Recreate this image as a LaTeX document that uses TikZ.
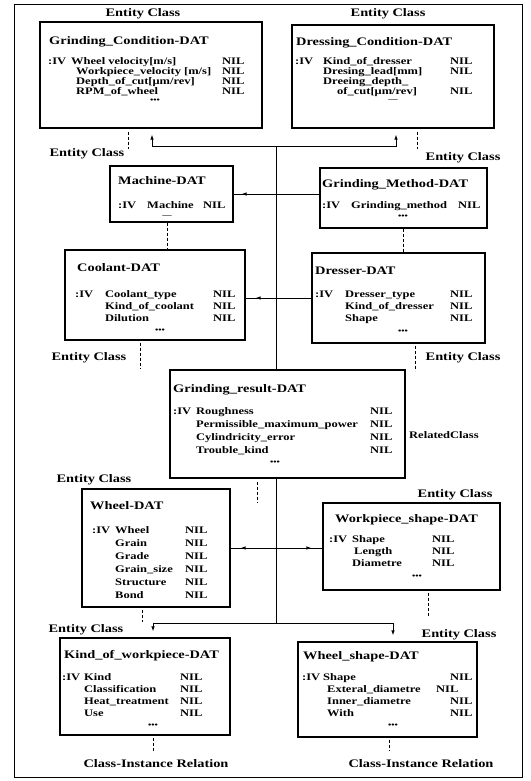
\documentclass[tikz,border=0pt]{standalone}
\usepackage{fontspec}
\setmainfont{Liberation Serif}[FakeStretch=1.25]
\usetikzlibrary{arrows.meta,calc}
\tikzset{
 box/.style={draw, line width=1.1pt, inner sep=0pt, rectangle},
 ttl/.style={anchor=base west, inner sep=0pt, font=\bfseries\fontsize{11.5}{12}\selectfont},
 row/.style={anchor=base west, inner sep=0pt, font=\bfseries\fontsize{10}{10}\selectfont},
 lbl/.style={anchor=base, inner sep=0pt, font=\bfseries\fontsize{11.5}{12}\selectfont},
 rlbl/.style={anchor=base west, inner sep=0pt, font=\bfseries\fontsize{10}{10}\selectfont},
 dots/.style={anchor=center, inner sep=0pt, font=\bfseries\fontsize{7.5}{7.5}\selectfont},
 conn/.style={line width=0.9pt},
 tip/.style={-{Latex[length=5pt,width=3.5pt]}, line width=0.9pt},
 dashline/.style={line width=0.8pt, dash pattern=on 3pt off 2pt},
}
\begin{document}
\begin{tikzpicture}[x=1pt,y=-1pt]
\useasboundingbox (0,0) rectangle (530,781);
\draw[line width=0.9pt] (14,4) rectangle (522,777);

% ---------- boxes ----------
\node[box, minimum width=222pt, minimum height=106pt] (gc) at (151,75) {};
\node[box, minimum width=202pt, minimum height=103pt] (dc) at (393,76.5) {};
\node[box, minimum width=123pt, minimum height=56pt] (ma) at (171.5,194) {};
\node[box, minimum width=167pt, minimum height=60pt] (gm) at (403.5,198) {};
\node[box, minimum width=180pt, minimum height=90pt] (co) at (155,295) {};
\node[box, minimum width=173pt, minimum height=90pt] (dr) at (398.5,298) {};
\node[box, minimum width=235pt, minimum height=108pt] (gr) at (287.5,424) {};
\node[box, minimum width=148pt, minimum height=118pt] (wh) at (156,548) {};
\node[box, minimum width=177pt, minimum height=87pt] (wp) at (411.5,546.5) {};
\node[box, minimum width=170pt, minimum height=97pt] (kw) at (145,686.5) {};
\node[box, minimum width=179pt, minimum height=95pt] (ws) at (387.5,689.5) {};

% ---------- labels ----------
\node[lbl] (l1) at (143,17) {Entity Class};
\node[lbl] (l2) at (388,17) {Entity Class};
\node[lbl] (l3) at (87,157) {Entity Class};
\node[lbl] (l4) at (463,160) {Entity Class};
\node[lbl] (l5) at (89,360) {Entity Class};
\node[lbl] (l6) at (463,360) {Entity Class};
\node[lbl] (l7) at (94,482) {Entity Class};
\node[lbl] (l8) at (455,497) {Entity Class};
\node[lbl] (l9) at (86,632) {Entity Class};
\node[lbl] (l10) at (459,637) {Entity Class};
\node[lbl] (l11) at (156,767) {Class-Instance Relation};
\node[lbl] (l12) at (421,767) {Class-Instance Relation};
\node[rlbl] (l13) at (409,438.5) {RelatedClass};

% ---------- Grinding_Condition ----------
\node[ttl] (gc-t) at (49,45) {Grinding\_Condition-DAT};
\node[row] (gc-iv) at (48,64.5) {:IV};
\node[row] (gc-1) at (71,64.5) {Wheel velocity[m/s]};
\node[row] (gc-2) at (76,74.5) {Workpiece\_velocity [m/s]};
\node[row] (gc-3) at (76,84.5) {Depth\_of\_cut[μm/rev]};
\node[row] (gc-4) at (76,94.5) {RPM\_of\_wheel};
\node[row] (gc-n1) at (222,64.5) {NIL};
\node[row] (gc-n2) at (222,74.5) {NIL};
\node[row] (gc-n3) at (222,84.5) {NIL};
\node[row] (gc-n4) at (222,94.5) {NIL};
\node[dots] (gc-d) at (155,101) {•••};

% ---------- Dressing_Condition ----------
\node[ttl] (dc-t) at (296,46) {Dressing\_Condition-DAT};
\node[row] (dc-iv) at (295,64.5) {:IV};
\node[row] (dc-1) at (323,64.5) {Kind\_of\_dresser};
\node[row] (dc-2) at (323,74.5) {Dresing\_lead[mm]};
\node[row] (dc-3) at (323,84.5) {Dreeing\_depth\_};
\node[row] (dc-4) at (337,94.5) {of\_cut[μm/rev]};
\node[row] (dc-n1) at (450,64.5) {NIL};
\node[row] (dc-n2) at (450,74.5) {NIL};
\node[row] (dc-n4) at (450,94.5) {NIL};
\node[dots] (dc-d) at (393,100) {—};

% ---------- Machine ----------
\node[ttl] (ma-t) at (118,184) {Machine-DAT};
\node[row] (ma-iv) at (118,208.5) {:IV};
\node[row] (ma-1) at (147,208.5) {Machine};
\node[row] (ma-n1) at (203,208.5) {NIL};
\node[dots] (ma-d) at (167,216) {—};

% ---------- Grinding_Method ----------
\node[ttl] (gm-t) at (322,187) {Grinding\_Method-DAT};
\node[row] (gm-iv) at (322,208.5) {:IV};
\node[row] (gm-1) at (351,208.5) {Grinding\_method};
\node[row] (gm-n1) at (458,208.5) {NIL};
\node[dots] (gm-d) at (403,217) {•••};

% ---------- Coolant ----------
\node[ttl] (co-t) at (77,271) {Coolant-DAT};
\node[row] (co-iv) at (75,297.5) {:IV};
\node[row] (co-1) at (105,297.5) {Coolant\_type};
\node[row] (co-2) at (105,309.5) {Kind\_of\_coolant};
\node[row] (co-3) at (105,321.5) {Dilution};
\node[row] (co-n1) at (213,297.5) {NIL};
\node[row] (co-n2) at (213,309.5) {NIL};
\node[row] (co-n3) at (213,321.5) {NIL};
\node[dots] (co-d) at (160,331) {•••};

% ---------- Dresser ----------
\node[ttl] (dr-t) at (315,274) {Dresser-DAT};
\node[row] (dr-iv) at (315,297.5) {:IV};
\node[row] (dr-1) at (345,297.5) {Dresser\_type};
\node[row] (dr-2) at (345,309.5) {Kind\_of\_dresser};
\node[row] (dr-3) at (345,321.5) {Shape};
\node[row] (dr-n1) at (450,297.5) {NIL};
\node[row] (dr-n2) at (450,309.5) {NIL};
\node[row] (dr-n3) at (450,321.5) {NIL};
\node[dots] (dr-d) at (403,332) {•••};

% ---------- Grinding_result ----------
\node[ttl] (gr-t) at (173,392) {Grinding\_result-DAT};
\node[row] (gr-iv) at (173,414.5) {:IV};
\node[row] (gr-1) at (196,414.5) {Roughness};
\node[row] (gr-2) at (196,427.5) {Permissible\_maximum\_power};
\node[row] (gr-3) at (196,440.5) {Cylindricity\_error};
\node[row] (gr-4) at (196,453.5) {Trouble\_kind};
\node[row] (gr-n1) at (370,414.5) {NIL};
\node[row] (gr-n2) at (370,427.5) {NIL};
\node[row] (gr-n3) at (370,440.5) {NIL};
\node[row] (gr-n4) at (370,453.5) {NIL};
\node[dots] (gr-d) at (275,463) {•••};

% ---------- Wheel ----------
\node[ttl] (wh-t) at (90,509) {Wheel-DAT};
\node[row] (wh-iv) at (92,533.5) {:IV};
\node[row] (wh-1) at (115,533.5) {Wheel};
\node[row] (wh-2) at (115,546.5) {Grain};
\node[row] (wh-3) at (115,559.5) {Grade};
\node[row] (wh-4) at (115,572.5) {Grain\_size};
\node[row] (wh-5) at (115,585.5) {Structure};
\node[row] (wh-6) at (115,598.5) {Bond};
\node[row] (wh-n1) at (185,533.5) {NIL};
\node[row] (wh-n2) at (185,546.5) {NIL};
\node[row] (wh-n3) at (185,559.5) {NIL};
\node[row] (wh-n4) at (185,572.5) {NIL};
\node[row] (wh-n5) at (185,585.5) {NIL};
\node[row] (wh-n6) at (185,598.5) {NIL};

% ---------- Workpiece_shape ----------
\node[ttl] (wp-t) at (335,522) {Workpiece\_shape-DAT};
\node[row] (wp-iv) at (329,542.5) {:IV};
\node[row] (wp-1) at (352,542.5) {Shape};
\node[row] (wp-2) at (354,554.5) {Length};
\node[row] (wp-3) at (352,566.5) {Diametre};
\node[row] (wp-n1) at (432,542.5) {NIL};
\node[row] (wp-n2) at (432,554.5) {NIL};
\node[row] (wp-n3) at (432,566.5) {NIL};
\node[dots] (wp-d) at (417,577) {•••};

% ---------- Kind_of_workpiece ----------
\node[ttl] (kw-t) at (64,658) {Kind\_of\_workpiece-DAT};
\node[row] (kw-iv) at (62,680.5) {:IV};
\node[row] (kw-1) at (84,680.5) {Kind};
\node[row] (kw-2) at (84,692.5) {Classification};
\node[row] (kw-3) at (84,704.5) {Heat\_treatment};
\node[row] (kw-4) at (84,716.5) {Use};
\node[row] (kw-n1) at (180,680.5) {NIL};
\node[row] (kw-n2) at (180,692.5) {NIL};
\node[row] (kw-n3) at (180,704.5) {NIL};
\node[row] (kw-n4) at (180,716.5) {NIL};
\node[dots] (kw-d) at (153,726) {•••};

% ---------- Wheel_shape ----------
\node[ttl] (ws-t) at (303,659) {Wheel\_shape-DAT};
\node[row] (ws-iv) at (302,680.5) {:IV};
\node[row] (ws-1) at (323,680.5) {Shape};
\node[row] (ws-2) at (327,692.5) {Exteral\_diametre};
\node[row] (ws-3) at (327,704.5) {Inner\_diametre};
\node[row] (ws-4) at (327,716.5) {With};
\node[row] (ws-n1) at (450,680.5) {NIL};
\node[row] (ws-n2) at (436,692.5) {NIL};
\node[row] (ws-n3) at (450,704.5) {NIL};
\node[row] (ws-n4) at (450,716.5) {NIL};
\node[dots] (ws-d) at (393,726) {•••};

% ---------- connectors ----------
\coordinate (jt) at (276,146);
\coordinate (jb) at (276,623);
\draw[tip, shorten >=6pt] (jt) -| ([xshift=1pt]gc.south);
\draw[tip, shorten >=6pt] (jt) -| ([xshift=3pt]dc.south);
\draw[conn] (jt) -- (jt |- gr.north);
\draw[conn] (gr.south -| jt) -- (jb);
\draw[tip, shorten >=6pt] (jb) -| ([xshift=8pt]kw.north);
\draw[tip, shorten >=6pt] (jb) -| ([xshift=5.5pt]ws.north);

\draw[conn] (ma.east) -- (ma.east -| gm.west);
\draw[tip] ([xshift=16pt]ma.east) -- ([xshift=8pt]ma.east);
\draw[conn] (dr.west -| co.east) -- (dr.west);
\draw[tip] ([xshift=18pt]dr.west -| co.east) -- ([xshift=10pt]dr.west -| co.east);
\draw[conn] (wh.east) -- (wh.east -| wp.west);
\draw[tip] ([xshift=18pt]wh.east) -- ([xshift=10pt]wh.east);
\draw[tip] ([xshift=-20pt]wh.east -| wp.west) -- ([xshift=-11pt]wh.east -| wp.west);

% ---------- dashed relations ----------
\draw[dashline] ([xshift=-23pt,yshift=-3pt]gc.south) -- ++(0,17);
\draw[dashline] ([xshift=24pt,yshift=-3pt]dc.south) -- ++(0,17);
\draw[dashline] ([xshift=-4.5pt]ma.south) -- ([xshift=-4.5pt]ma.south |- co.north);
\draw[dashline] (gm.south) -- (gm.south |- dr.north);
\draw[dashline] ([xshift=-15pt,yshift=-2pt]co.south) -- ++(0,26);
\draw[dashline] ([xshift=16.5pt,yshift=-2pt]dr.south) -- ++(0,25);
\draw[dashline] ([xshift=-30.5pt,yshift=-3pt]gr.south) -- ++(0,21);
\draw[dashline] ([xshift=-14pt,yshift=-2pt]wh.south) -- ++(0,12);
\draw[dashline] ([xshift=16.5pt,yshift=-2pt]wp.south) -- ++(0,24);
\draw[dashline] ([xshift=8pt,yshift=-2pt]kw.south) -- ++(0,13);
\draw[dashline] ([xshift=1.5pt,yshift=-2pt]ws.south) -- ++(0,11);
\end{tikzpicture}
\end{document}
